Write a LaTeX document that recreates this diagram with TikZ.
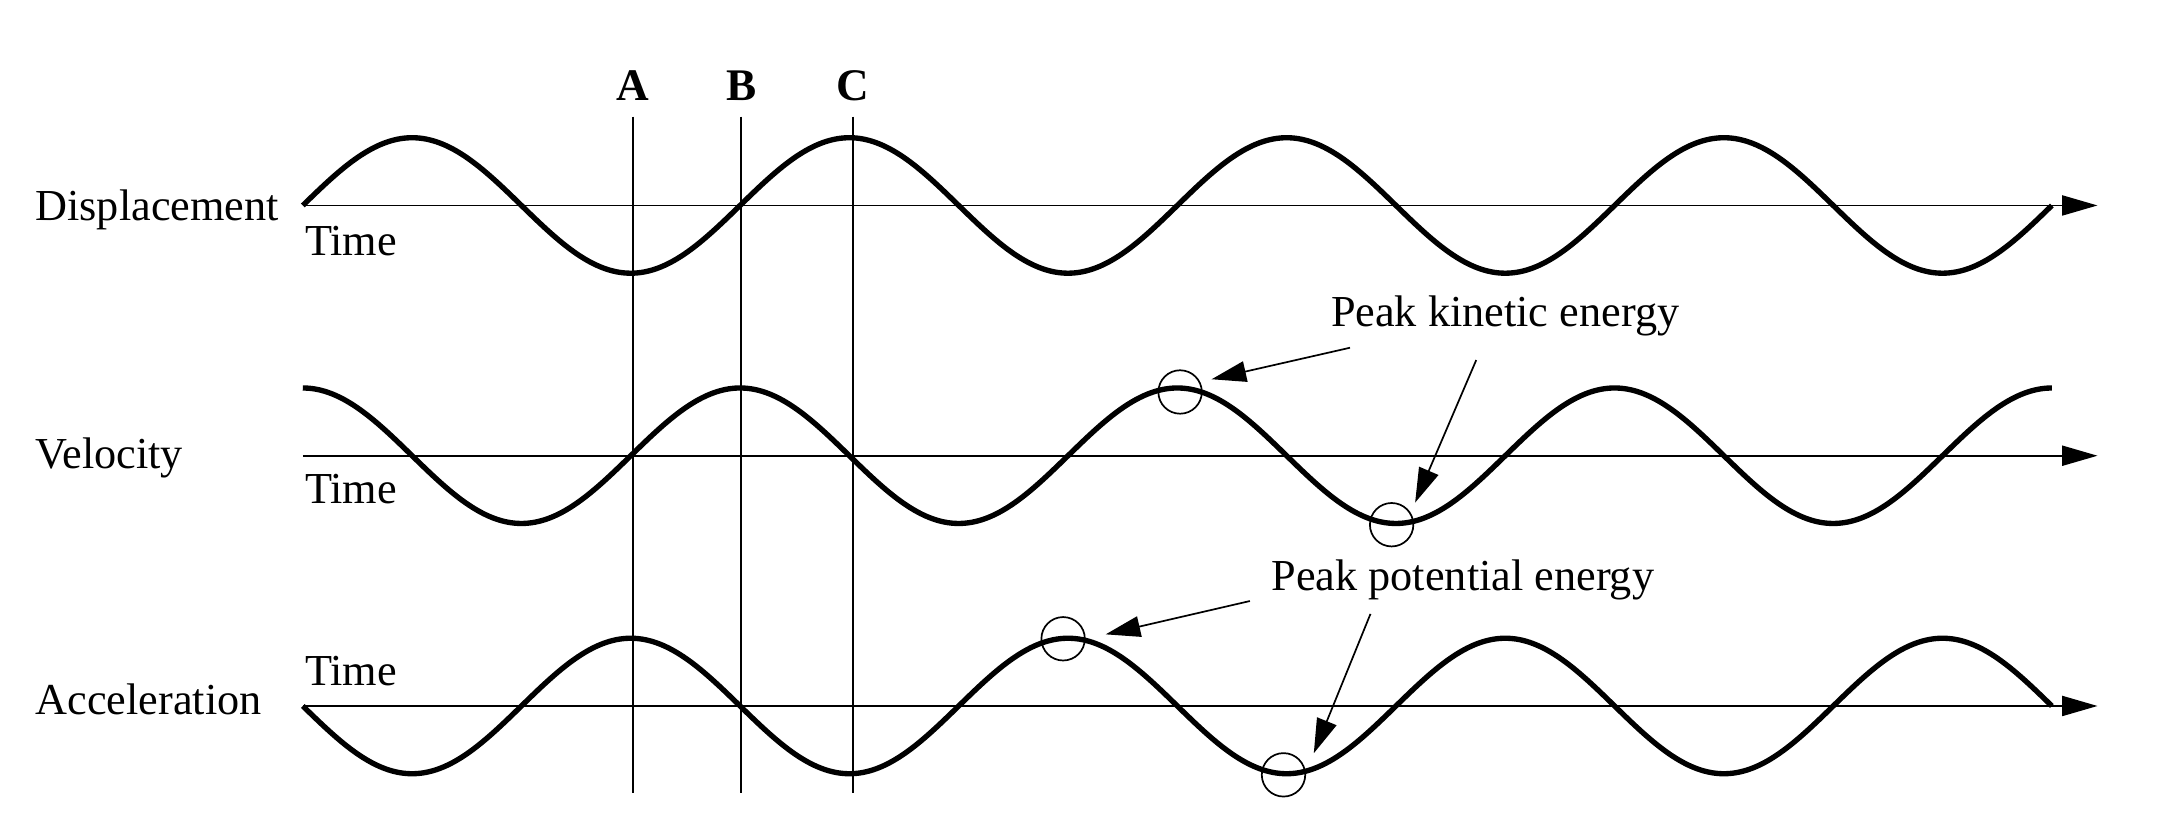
\documentclass[tikz,border=0pt]{standalone}
\usepackage{fontspec}
\setmainfont{Liberation Serif}
\usetikzlibrary{arrows.meta}
\begin{document}
\begin{tikzpicture}[x=0.01cm,y=-0.01cm,
  wave/.style={line width=1.1pt},
  thin/.style={line width=0.35pt},
  axisline/.style={line width=0.35pt,-{Triangle[length=0.255cm,width=0.145cm]}},
  pointer/.style={line width=0.35pt,-{Triangle[length=0.25cm,width=0.15cm]}},
  lbl/.style={inner sep=0pt,anchor=base west,font=\fontsize{9.1}{11}\selectfont},
  letter/.style={inner sep=0pt,anchor=base,font=\fontsize{9.3}{11}\selectfont\bfseries},
  ring/.style={circle,draw,line width=0.35pt,minimum size=0.314cm,inner sep=0pt}]
\useasboundingbox (0,0) rectangle (1568,606);
% axes
\coordinate (d0) at (219,148.6);
\coordinate (d1) at (1517,148.6);
\coordinate (v0) at (219,329.6);
\coordinate (v1) at (1517,329.6);
\coordinate (a0) at (219,510.6);
\coordinate (a1) at (1517,510.6);
\draw[axisline] (d0) -- (d1);
\draw[axisline] (v0) -- (v1);
\draw[axisline] (a0) -- (a1);
% vertical markers
\coordinate (At) at (458,84.4);
\coordinate (Ab) at (458,573.6);
\coordinate (Bt) at (536,84.4);
\coordinate (Bb) at (536,573.6);
\coordinate (Ct) at (617,84.4);
\coordinate (Cb) at (617,573.6);
\draw[thin] (At) -- (Ab);
\draw[thin] (Bt) -- (Bb);
\draw[thin] (Ct) -- (Cb);
\node[letter] (lA) at (458,72.8) {A};
\node[letter] (lB) at (536,72.8) {B};
\node[letter] (lC) at (617,72.8) {C};
% waves
\draw[wave] plot[domain=0:1265,samples=321,smooth] ({\x+219},{148.6-49*sin(\x/316.25*360)});
\draw[wave] plot[domain=0:1265,samples=321,smooth] ({\x+219},{329.6-49*cos(\x/316.25*360)});
\draw[wave] plot[domain=0:1265,samples=321,smooth] ({\x+219},{510.6+49*sin(\x/316.25*360)});
% labels
\node[lbl] (disp) at (25,159.6) {Displacement};
\node[lbl] (t1) at (220,184.5) {Time};
\node[lbl] (vel) at (25,338.7) {Velocity};
\node[lbl] (t2) at (220,364) {Time};
\node[lbl] (acc) at (25,517) {Acceleration};
\node[lbl] (t3) at (220,496) {Time};
\node[lbl] (ke) at (962,236.3) {Peak kinetic energy};
\node[lbl] (pe) at (919,427.2) {Peak potential energy};
% circles
\node[ring] (c1) at (853.5,283.5) {};
\node[ring] (c2) at (1006.5,379.5) {};
\node[ring] (c3) at (768.9,462) {};
\node[ring] (c4) at (928.3,560.4) {};
% pointers
\coordinate (k1s) at (976.4,251.5);
\coordinate (k1t) at (876.3,274.3);
\coordinate (k2s) at (1067.7,260.4);
\coordinate (k2t) at (1023.5,363.5);
\coordinate (p1s) at (904,434.7);
\coordinate (p1t) at (799.7,458.8);
\coordinate (p2s) at (991.2,444);
\coordinate (p2t) at (950.2,544.8);
\draw[pointer] (k1s) -- (k1t);
\draw[pointer] (k2s) -- (k2t);
\draw[pointer] (p1s) -- (p1t);
\draw[pointer] (p2s) -- (p2t);
\end{tikzpicture}
\end{document}
